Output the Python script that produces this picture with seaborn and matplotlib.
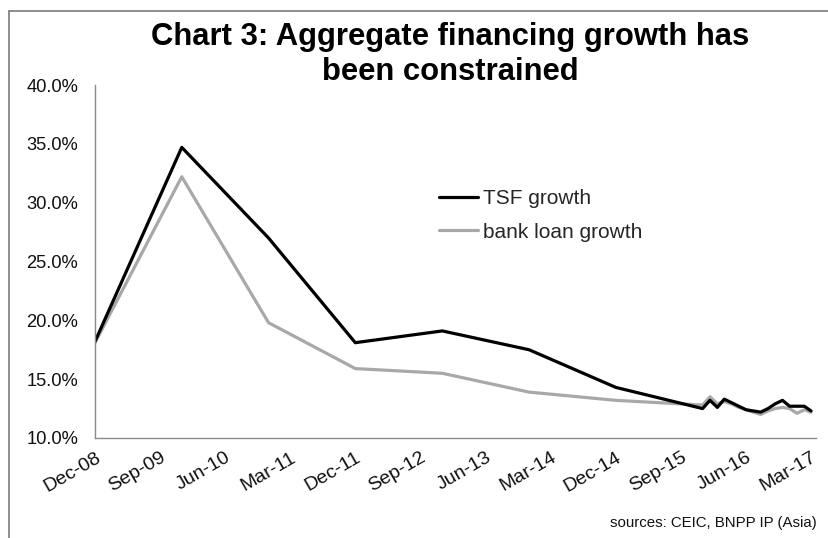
import matplotlib
matplotlib.use("Agg")
import matplotlib.pyplot as plt
from matplotlib.lines import Line2D
import pandas as pd
import seaborn as sns

# ---- data ----
dates = ["2008-12", "2009-12", "2010-12", "2011-12", "2012-12", "2013-12", "2014-12",
         "2015-12", "2016-01", "2016-02", "2016-03", "2016-04", "2016-05", "2016-06",
         "2016-07", "2016-08", "2016-09", "2016-10", "2016-11", "2016-12",
         "2017-01", "2017-02", "2017-03"]
tsf_growth = [18.2, 34.7, 27.0, 18.1, 19.1, 17.5, 14.3,
              12.5, 13.2, 12.6, 13.3, 13.0, 12.7, 12.4,
              12.3, 12.2, 12.5, 12.9, 13.2, 12.7,
              12.7, 12.7, 12.3]
loan_growth = [18.1, 32.2, 19.8, 15.9, 15.5, 13.9, 13.2,
               12.8, 13.5, 12.9, 13.1, 12.9, 12.6, 12.4,
               12.2, 12.0, 12.3, 12.5, 12.6, 12.5,
               12.1, 12.4, 12.2]
series_names = ["TSF growth", "bank loan growth"]
tick_dates = ["2008-12", "2009-09", "2010-06", "2011-03", "2011-12", "2012-09",
              "2013-06", "2014-03", "2014-12", "2015-09", "2016-06", "2017-03"]
tick_labels = ["Dec-08", "Sep-09", "Jun-10", "Mar-11", "Dec-11", "Sep-12",
               "Jun-13", "Mar-14", "Dec-14", "Sep-15", "Jun-16", "Mar-17"]
yticks = [10, 15, 20, 25, 30, 35, 40]
title = "Chart 3: Aggregate financing growth has\nbeen constrained"
source = "sources: CEIC, BNPP IP (Asia)"

df = pd.DataFrame({
    "date": pd.to_datetime(dates * 2),
    "value": tsf_growth + loan_growth,
    "series": [series_names[0]] * len(dates) + [series_names[1]] * len(dates),
})

sns.set_style("white")
plt.rcParams["font.family"] = ["Liberation Sans", "DejaVu Sans"]

fig = plt.figure(figsize=(8.29, 5.38), dpi=100)
ax = fig.add_axes([95 / 829, 1 - 438 / 538, (816 - 95) / 829, (438 - 85) / 538])

palette = {series_names[0]: "#000000", series_names[1]: "#a8a8a8"}
sns.lineplot(data=df, x="date", y="value", hue="series", palette=palette,
             hue_order=[series_names[1], series_names[0]],
             linewidth=2.3, ax=ax, legend=False)

ax.set_xlim(pd.Timestamp("2008-12-01"), pd.Timestamp("2017-03-22"))
ax.set_ylim(10, 40)
ax.set_yticks(yticks)
ax.set_yticklabels([f"{v:.1f}%" for v in yticks])
ax.set_xticks(pd.to_datetime(tick_dates))
ax.set_xticklabels(tick_labels, rotation=30, ha="right", rotation_mode="anchor")
ax.set_xlabel("")
ax.set_ylabel("")

for s in ["top", "right"]:
    ax.spines[s].set_visible(False)
for s in ["left", "bottom"]:
    ax.spines[s].set_color("#8a8a8a")
    ax.spines[s].set_linewidth(1.0)
ax.tick_params(axis="y", direction="out", length=5, width=1, color="#8a8a8a",
               labelsize=13.2, pad=7, labelcolor="#111111")
ax.tick_params(axis="x", direction="out", length=4, width=1, color="#8a8a8a",
               labelsize=14, pad=4, labelcolor="#111111")
ax.grid(False)

handles = [Line2D([0], [0], color="#000000", lw=2.3),
           Line2D([0], [0], color="#a8a8a8", lw=2.3)]
ax.legend(handles, series_names, loc="upper left",
          bbox_to_anchor=((431 - 95) / 721, (438 - 181) / 353),
          frameon=False, fontsize=15, handlelength=1.85, handletextpad=0.25,
          labelspacing=0.68, borderaxespad=0)

fig.text(450 / 829, 1 - 22 / 538, title, ha="center", va="top",
         fontsize=22.3, fontweight="bold", linespacing=1.22, color="#000000")
fig.text(817 / 829, 1 - 527 / 538, source, ha="right", va="baseline",
         fontsize=10.8, color="#111111")

# frame lines at top and left of the image
fig.add_artist(Line2D([9 / 829, 1.0], [1 - 10.5 / 538, 1 - 10.5 / 538],
                      transform=fig.transFigure, color="#7a7a7a", lw=1.2))
fig.add_artist(Line2D([9 / 829, 9 / 829], [0, 1 - 10.5 / 538],
                      transform=fig.transFigure, color="#7a7a7a", lw=1.2))

fig.savefig("out.png", dpi=100)
